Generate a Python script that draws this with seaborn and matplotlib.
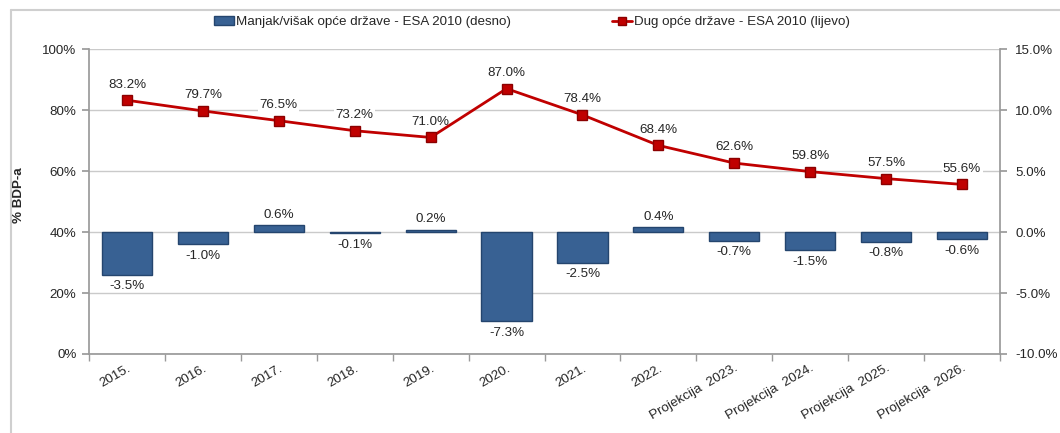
import matplotlib
matplotlib.use("Agg")
import matplotlib.pyplot as plt
from matplotlib.lines import Line2D
from matplotlib.patches import Patch
from matplotlib.ticker import FuncFormatter, MultipleLocator
import seaborn as sns
import pandas as pd

# Data
years = ["2015.", "2016.", "2017.", "2018.", "2019.", "2020.", "2021.", "2022.",
         "Projekcija  2023.", "Projekcija  2024.", "Projekcija  2025.", "Projekcija  2026."]
debt = [83.2, 79.7, 76.5, 73.2, 71.0, 87.0, 78.4, 68.4, 62.6, 59.8, 57.5, 55.6]
balance = [-3.5, -1.0, 0.6, -0.1, 0.2, -7.3, -2.5, 0.4, -0.7, -1.5, -0.8, -0.6]
label_bar = "Manjak/višak opće države - ESA 2010 (desno)"
label_line = "Dug opće države - ESA 2010 (lijevo)"
ylabel = "% BDP-a"

df = pd.DataFrame({"godina": years, "dug": debt, "saldo": balance})

sns.set_theme(style="white")
plt.rcParams["font.family"] = ["Liberation Sans", "DejaVu Sans"]
FS = 9.6
plt.rcParams["font.size"] = FS

TEXT = "#262626"
GRID = "#cacaca"
AXIS = "#9a9a9a"
BAR = "#386193"
BAR_EDGE = "#24456e"
LINE = "#c00000"

fig = plt.figure(figsize=(10.6, 4.33), dpi=100)
ax = fig.add_axes([89 / 1060, 1 - 354 / 433, (1000 - 89) / 1060, (354 - 49) / 433])
ax2 = ax.twinx()

# Bars: deficit/surplus on right axis
sns.barplot(data=df, x="godina", y="saldo", ax=ax2, color=BAR, width=0.66,
            edgecolor=BAR_EDGE, linewidth=1.0, saturation=1)

# Line: debt on left axis (drawn above the bars)
ax.set_zorder(ax2.get_zorder() + 1)
ax.patch.set_visible(False)
sns.pointplot(data=df, x="godina", y="dug", ax=ax, color=LINE, markers="s",
              linewidth=2.0, markersize=7, markeredgecolor="#8b0000",
              markeredgewidth=1.0)
for ln in ax.lines:
    ln.set_zorder(5)

ax.set_xlim(-0.5, len(years) - 0.5)
ax.set_ylim(0, 100)
ax2.set_ylim(-10, 15)
ax.yaxis.set_major_locator(MultipleLocator(20))
ax2.yaxis.set_major_locator(MultipleLocator(5))
ax.yaxis.set_major_formatter(FuncFormatter(lambda v, p: f"{v:.0f}%"))
ax2.yaxis.set_major_formatter(FuncFormatter(lambda v, p: f"{v:.1f}%"))

# Gridlines drawn on the right axis so they sit under the bars
ax2.grid(axis="y", color=GRID, linewidth=1.0)
ax2.set_axisbelow(True)
ax.grid(False)

for a in (ax, ax2):
    for s in a.spines.values():
        s.set_visible(False)
    a.set_xlabel("")
ax2.set_ylabel("")
ax.spines["left"].set_visible(True)
ax.spines["left"].set_color(AXIS)
ax.spines["bottom"].set_visible(True)
ax.spines["bottom"].set_color(AXIS)
ax2.spines["right"].set_visible(True)
ax2.spines["right"].set_color(AXIS)

ax.tick_params(axis="y", direction="out", length=5, color=AXIS, labelsize=FS,
               labelcolor=TEXT, pad=4, left=True)
ax2.tick_params(axis="y", direction="out", length=5, color=AXIS, labelsize=FS,
                labelcolor=TEXT, pad=6, right=True)
ax.set_xticks(range(len(years)))
ax.set_xticks([i - 0.5 for i in range(len(years) + 1)], minor=True)
ax.tick_params(axis="x", which="minor", direction="out", length=5, color=AXIS, bottom=True)
ax.tick_params(axis="x", which="major", length=0, labelsize=FS, labelcolor=TEXT, pad=6)
ax.set_xticklabels(years, rotation=30, ha="right", rotation_mode="anchor")
ax2.tick_params(axis="x", length=0)

ax.set_ylabel(ylabel, fontsize=FS, fontweight="bold", color=TEXT)
ax.yaxis.set_label_coords((25 - 89) / 911, 0.52)

# Value labels on the debt line (white box hides gridlines, line stays on top)
for i, v in enumerate(debt):
    ax.annotate(f"{v:.1f}%", (i, v), xytext=(0, 7), textcoords="offset points",
                ha="center", va="bottom", fontsize=FS, color=TEXT, zorder=1,
                bbox=dict(facecolor="white", edgecolor="none", pad=1.0))

# Value labels on the bars
for i, v in enumerate(balance):
    if v >= 0:
        ax2.annotate(f"{v:.1f}%", (i, v), xytext=(0, 3), textcoords="offset points",
                     ha="center", va="bottom", fontsize=FS, color=TEXT)
    else:
        ax2.annotate(f"{v:.1f}%", (i, v), xytext=(0, -4), textcoords="offset points",
                     ha="center", va="top", fontsize=FS, color=TEXT)

# Legend
handles = [Patch(facecolor=BAR, edgecolor=BAR_EDGE, label=label_bar),
           Line2D([0], [0], color=LINE, lw=2, marker="s", markersize=6,
                  markeredgecolor="#8b0000", label=label_line)]
fig.legend(handles=handles, loc="center", bbox_to_anchor=(532 / 1060, 1 - 22 / 433),
           ncol=2, frameon=False, fontsize=FS, handlelength=1.5, handleheight=0.6,
           handletextpad=0.15, columnspacing=7.5, labelcolor=TEXT)

# Outer frame (left and top edges)
fig.add_artist(Line2D([11 / 1060, 11 / 1060], [0, 1 - 10 / 433], transform=fig.transFigure,
                      color="#cfcfcf", lw=1.5))
fig.add_artist(Line2D([11 / 1060, 1], [1 - 10 / 433, 1 - 10 / 433], transform=fig.transFigure,
                      color="#cfcfcf", lw=1.5))

fig.savefig("out.png", dpi=100)
